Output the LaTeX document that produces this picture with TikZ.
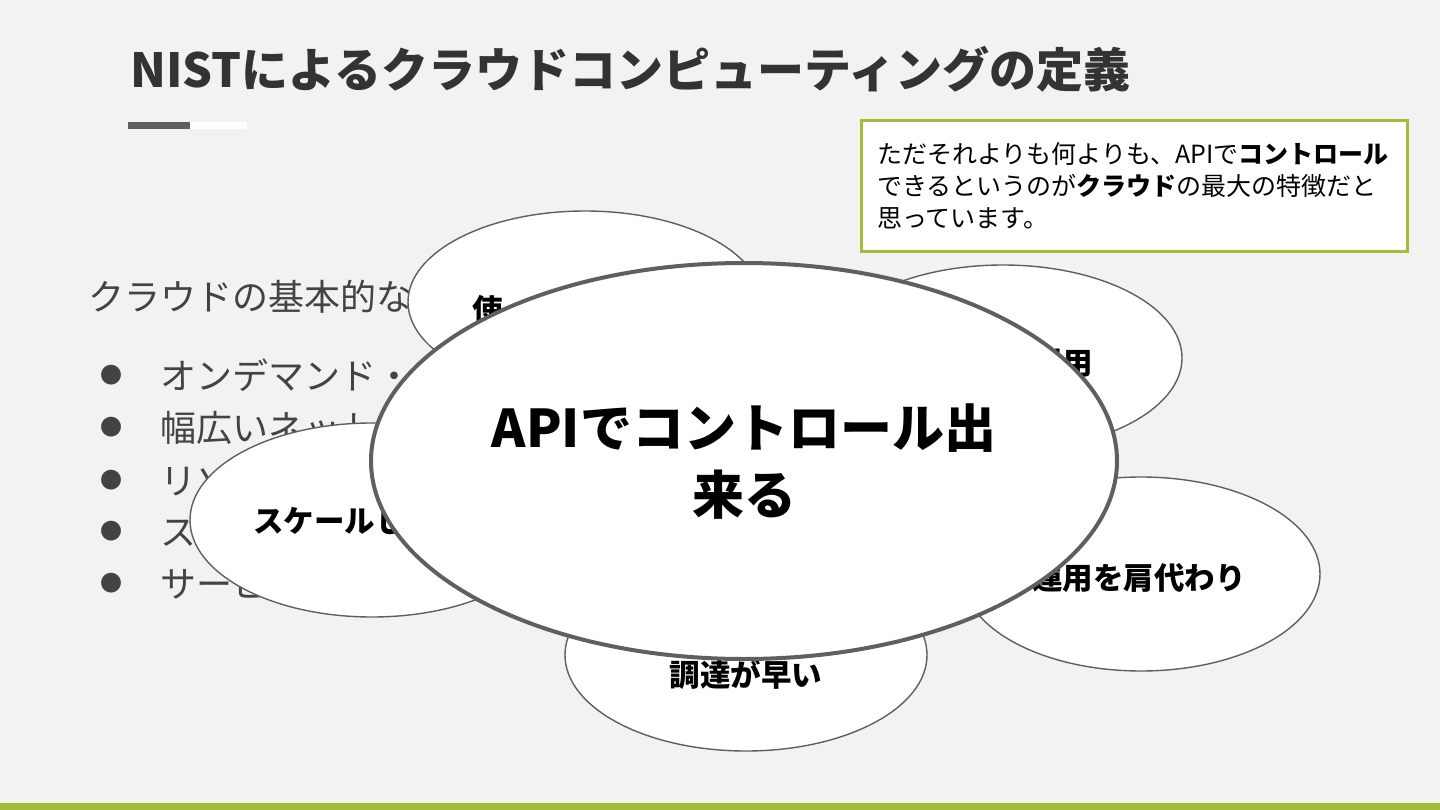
\documentclass[tikz,border=0pt]{standalone}
\usepackage{fontspec}
\setmainfont{Noto Sans CJK JP}
\usetikzlibrary{shapes.geometric}

\definecolor{slidebg}{HTML}{F2F2F2}
\definecolor{leaf}{HTML}{A0BE37}
\definecolor{ink}{HTML}{333333}
\definecolor{body}{HTML}{434343}
\definecolor{rim}{HTML}{5F5F5F}

\begin{document}
\begin{tikzpicture}[
    x=1pt, y=-1pt,
    blob/.style={ellipse, draw=rim, line width=1.4pt, fill=white, inner sep=0pt},
    core/.style={ellipse, draw=rim, line width=4pt, fill=white, inner sep=0pt},
    blobtext/.style={font=\fontsize{30.5}{36}\selectfont\bfseries, inner sep=0pt},
    bodytext/.style={font=\fontsize{36}{42}\selectfont, text=body, anchor=base west, inner sep=0pt},
    dot/.style={font=\fontsize{22}{24}\selectfont, text=body, inner sep=0pt}
]
    \useasboundingbox (0,0) rectangle (1440,810);
    \fill[slidebg] (0,0) rectangle (1440,810);
    \fill[leaf] (0,803) rectangle (1440,810);

    % title and its bar
    \node[anchor=base west, inner sep=0pt, text=ink, font=\fontsize{47}{56}\selectfont\bfseries] (title) at (130,88) {NISTによるクラウドコンピューティングの定義};
    \fill[rim] (128,122) rectangle (190,129);
    \fill[white] (190,122) rectangle (247,129);

    % body text (mostly hidden below)
    \node[bodytext] (lead) at (88,310) {クラウドの基本的な};
    \node[dot] (d1) at (111,375) {●};
    \node[dot] (d2) at (111,427) {●};
    \node[dot] (d3) at (111,480) {●};
    \node[dot] (d4) at (111,531) {●};
    \node[dot] (d5) at (111,583) {●};
    \node[bodytext] (b1) at (160,389) {オンデマンド・};
    \node[bodytext] (b2) at (160,441) {幅広いネット};
    \node[bodytext] (b3) at (160,494) {リソ};
    \node[bodytext] (b4) at (160,545) {ス};
    \node[bodytext] (b5) at (160,597) {サービ};

    % small ellipses
    \node[blob, minimum width=354pt, minimum height=182pt] (pay) at (585,302) {};
    \node[blob, minimum width=358pt, minimum height=186pt] (use) at (1003,358) {};
    \node[blob, minimum width=364pt, minimum height=194pt] (scale) at (372,520) {};
    \node[blob, minimum width=358pt, minimum height=194pt] (ops) at (1141,574) {};
    \node[blob, minimum width=362pt, minimum height=192pt] (fast) at (746,655) {};

    \node[blobtext, anchor=base west] (paytext) at (472,321) {使っ};
    \node[blobtext, anchor=base east] (usetext) at (1093,374) {利用};
    \node[blobtext, anchor=base west] (scaletext) at (253,532) {スケールし};
    \node[blobtext, anchor=base] (opstext) at (1139,589) {運用を肩代わり};
    \node[blobtext, anchor=base] (fasttext) at (746,686) {調達が早い};

    % centre ellipse
    \node[core, minimum width=746pt, minimum height=396pt] (api) at (744,461) {};
    \node[align=center, inner sep=0pt, font=\fontsize{52}{67}\selectfont\bfseries] (apitext) at (744,462) {APIでコントロール出\\来る};

    % note box
    \node[draw=leaf, line width=3pt, fill=white, anchor=north west, minimum width=546pt, minimum height=131pt, inner sep=0pt] (note) at (860,119) {};
    \node[anchor=base west, align=left, inner sep=0pt, font=\fontsize{25}{32}\selectfont] (notetext) at (877,228) {ただそれよりも何よりも、APIで\textbf{コントロール}\\できるというのが\textbf{クラウド}の最大の特徴だと\\思っています。};
\end{tikzpicture}
\end{document}
